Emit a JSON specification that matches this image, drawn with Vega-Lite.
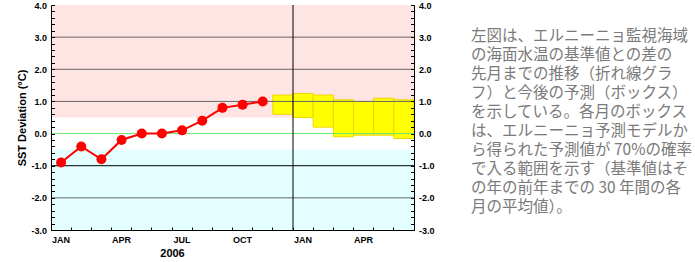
{
  "$schema": "https://vega.github.io/schema/vega-lite/v6.json",
  "background": "white",
  "padding": {"left": 16, "top": 1, "right": 0, "bottom": 0},
  "width": 363,
  "height": 225,
  "config": {
    "font": "Liberation Sans",
    "view": {"stroke": "black", "strokeWidth": 1}
  },
  "title": {
    "text": [
      "左図は、エルニーニョ監視海域",
      "の海面水温の基準値との差の",
      "先月までの推移（折れ線グラ",
      "フ）と今後の予測（ボックス）",
      "を示している。各月のボックス",
      "は、エルニーニョ予測モデルか",
      "ら得られた予測値が 70%の確率",
      "で入る範囲を示す（基準値はそ",
      "の年の前年までの 30 年間の各",
      "月の平均値）。"
    ],
    "orient": "right",
    "anchor": "start",
    "angle": 0,
    "align": "left",
    "baseline": "top",
    "offset": 33,
    "dx": -217,
    "dy": 28,
    "lineHeight": 19,
    "font": "Noto Sans CJK JP",
    "fontSize": 15.5,
    "fontWeight": "normal",
    "color": "#7a7a7a"
  },
  "datasets": {
    "obs": [
      {"month": "2006-01", "value": -0.9},
      {"month": "2006-02", "value": -0.4},
      {"month": "2006-03", "value": -0.8},
      {"month": "2006-04", "value": -0.2},
      {"month": "2006-05", "value": 0.0},
      {"month": "2006-06", "value": 0.0},
      {"month": "2006-07", "value": 0.1},
      {"month": "2006-08", "value": 0.4},
      {"month": "2006-09", "value": 0.8},
      {"month": "2006-10", "value": 0.9},
      {"month": "2006-11", "value": 1.0}
    ]
  },
  "layer": [
    {
      "data": {"values": [
        {"zone": "warm", "lo": 0.5, "hi": 4},
        {"zone": "cold", "lo": -3, "hi": -0.5}
      ]},
      "mark": {"type": "rect"},
      "encoding": {
        "y": {
          "field": "lo", "type": "quantitative",
          "scale": {"domain": [-3, 4], "nice": false, "zero": false},
          "axis": {
            "orient": "left",
            "zindex": 1,
            "title": "SST Deviation (°C)",
            "values": [-3,-2.8,-2.6,-2.4,-2.2,-2,-1.8,-1.6,-1.4,-1.2,-1,-0.8,-0.6,-0.4,-0.2,0,0.2,0.4,0.6,0.8,1,1.2,1.4,1.6,1.8,2,2.2,2.4,2.6,2.8,3,3.2,3.4,3.6,3.8,4],
            "labelExpr": "datum.value % 1 == 0 ? datum.value + '.0' : ''",
            "labelOverlap": false,
            "labelFlush": false,
            "labelBound": false,
            "tickSize": -3.5,
            "tickColor": "black",
            "labelPadding": 8,
            "labelFontSize": 9,
            "labelFontWeight": "bold",
            "labelColor": "black",
            "domainColor": "black",
            "grid": false,
            "titleFontSize": 11,
            "titleFontWeight": "bold",
            "titleColor": "black",
            "titlePadding": 3
          }
        },
        "y2": {"field": "hi"},
        "color": {
          "field": "zone", "type": "nominal",
          "scale": {"domain": ["warm", "cold"], "range": ["#ffe4e4", "#e4ffff"]},
          "legend": null
        }
      }
    },
    {
      "data": {"values": [
        {"month": "2006-12", "lo": 0.6, "hi": 1.2},
        {"month": "2007-01", "lo": 0.5, "hi": 1.25},
        {"month": "2007-02", "lo": 0.2, "hi": 1.2},
        {"month": "2007-03", "lo": -0.1, "hi": 1.05},
        {"month": "2007-04", "lo": -0.05, "hi": 1.0},
        {"month": "2007-05", "lo": -0.05, "hi": 1.1},
        {"month": "2007-06", "lo": -0.15, "hi": 1.05}
      ]},
      "mark": {"type": "bar", "fill": "#ffff00", "stroke": "#f0d400", "strokeWidth": 1},
      "encoding": {
        "x": {
          "field": "month", "type": "ordinal",
          "scale": {
            "type": "band",
            "domain": ["2006-01","2006-02","2006-03","2006-04","2006-05","2006-06","2006-07","2006-08","2006-09","2006-10","2006-11","2006-12","2007-01","2007-02","2007-03","2007-04","2007-05","2007-06"],
            "paddingInner": 0,
            "paddingOuter": 0
          },
          "axis": {
            "orient": "bottom",
            "zindex": 1,
            "title": "2006",
            "titleX": 121,
            "titleFontSize": 11,
            "titleFontWeight": "bold",
            "titleColor": "black",
            "titlePadding": 3,
            "bandPosition": 0,
            "labelOffset": 0,
            "labelAngle": 0,
            "labelOverlap": false,
            "labelExpr": "substring(datum.value,5,7)=='01' ? 'JAN' : substring(datum.value,5,7)=='04' ? 'APR' : substring(datum.value,5,7)=='07' ? 'JUL' : substring(datum.value,5,7)=='10' ? 'OCT' : ''",
            "tickSize": -3,
            "tickColor": "black",
            "labelPadding": 8,
            "labelFontSize": 9,
            "labelFontWeight": "bold",
            "labelColor": "black",
            "domainColor": "black",
            "grid": false
          }
        },
        "y": {"field": "lo", "type": "quantitative", "axis": null},
        "y2": {"field": "hi"}
      }
    },
    {
      "data": {"values": [{"v": 3}, {"v": 2}, {"v": 1}, {"v": -2}]},
      "mark": {"type": "rule", "color": "#666666", "strokeWidth": 1},
      "encoding": {
        "y": {
          "field": "v", "type": "quantitative",
          "axis": {
            "orient": "right",
            "zindex": 1,
            "title": null,
            "values": [-3,-2.8,-2.6,-2.4,-2.2,-2,-1.8,-1.6,-1.4,-1.2,-1,-0.8,-0.6,-0.4,-0.2,0,0.2,0.4,0.6,0.8,1,1.2,1.4,1.6,1.8,2,2.2,2.4,2.6,2.8,3,3.2,3.4,3.6,3.8,4],
            "labelExpr": "datum.value % 1 == 0 ? datum.value + '.0' : ''",
            "labelOverlap": false,
            "labelFlush": false,
            "labelBound": false,
            "tickSize": -3.5,
            "tickColor": "black",
            "labelPadding": 8,
            "labelFontSize": 9,
            "labelFontWeight": "bold",
            "labelColor": "black",
            "domainColor": "black",
            "grid": false
          }
        }
      }
    },
    {
      "data": {"values": [{"v": -1}]},
      "mark": {"type": "rule", "color": "black", "strokeWidth": 1},
      "encoding": {"y": {"field": "v", "type": "quantitative", "axis": null}}
    },
    {
      "data": {"values": [{"v": 0}]},
      "mark": {"type": "rule", "color": "#6ee66e", "strokeWidth": 1},
      "encoding": {"y": {"field": "v", "type": "quantitative", "axis": null}}
    },
    {
      "data": {"values": [{"m": "2007-01"}]},
      "mark": {"type": "rule", "color": "black", "strokeWidth": 1},
      "encoding": {"x": {"field": "m", "type": "ordinal", "bandPosition": 0}}
    },
    {
      "data": {"name": "obs"},
      "mark": {"type": "line", "color": "#ff0000", "strokeWidth": 2},
      "encoding": {
        "x": {"field": "month", "type": "ordinal"},
        "y": {"field": "value", "type": "quantitative", "axis": null}
      }
    },
    {
      "data": {"name": "obs"},
      "mark": {"type": "circle", "color": "#ff0000", "size": 100, "opacity": 1},
      "encoding": {
        "x": {"field": "month", "type": "ordinal"},
        "y": {"field": "value", "type": "quantitative", "axis": null}
      }
    }
  ],
  "resolve": {"axis": {"y": "independent"}}
}
